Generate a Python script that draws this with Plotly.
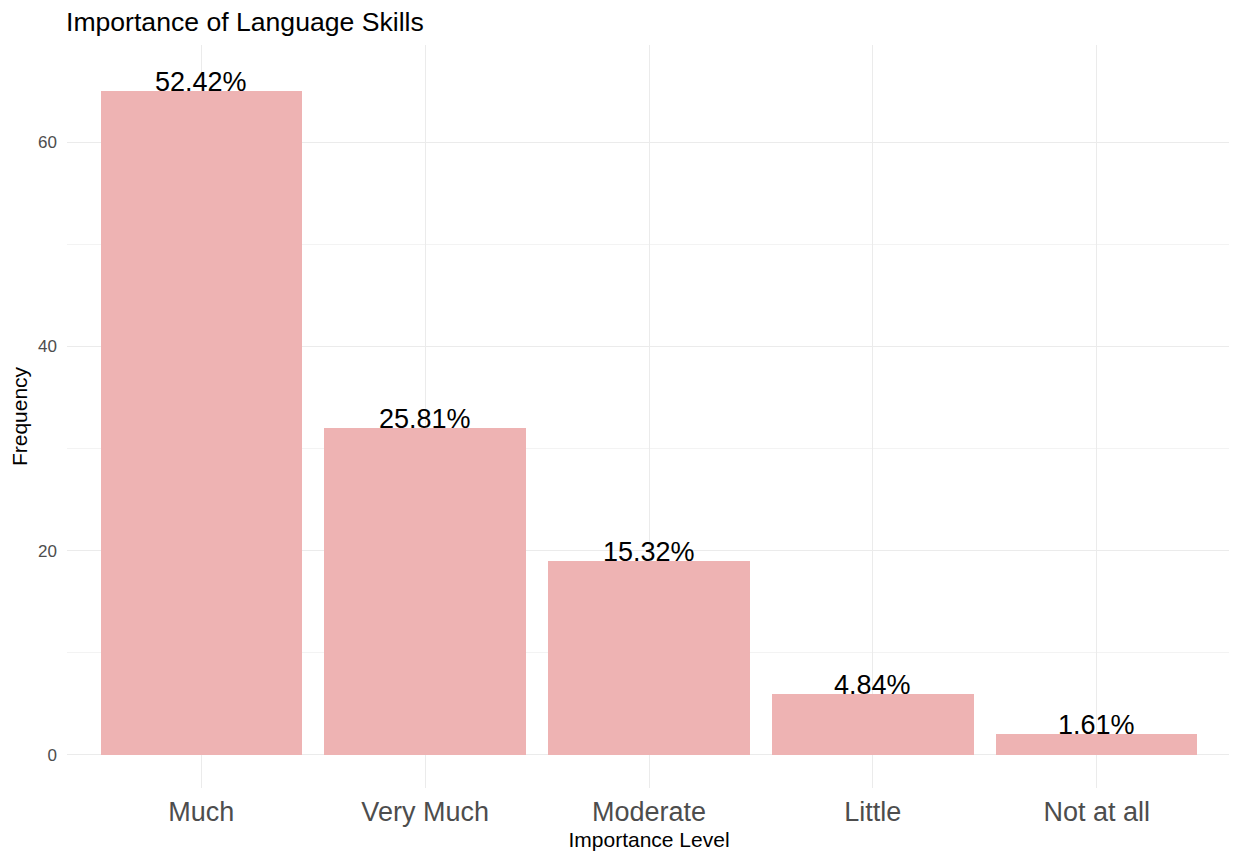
import plotly.graph_objects as go

categories = ["Much", "Very Much", "Moderate", "Little", "Not at all"]
counts = [65, 32, 19, 6, 2]
pct_labels = ["52.42%", "25.81%", "15.32%", "4.84%", "1.61%"]
y_ticks = [0, 20, 40, 60]

FONT = "Liberation Sans, Arial, sans-serif"

fig = go.Figure()
fig.add_trace(go.Bar(
    x=list(range(len(categories))), y=counts, width=0.9,
    marker=dict(color="#EEB3B3", line=dict(width=0)),
    hoverinfo="skip",
))

for i, (c, t) in enumerate(zip(counts, pct_labels)):
    fig.add_annotation(x=i, y=c, text=t, showarrow=False, yanchor="middle", yshift=9,
                       font=dict(family=FONT, size=27, color="black"))

fig.update_layout(
    width=1237, height=854,
    margin=dict(l=59, r=14, t=37, b=74),
    plot_bgcolor="white", paper_bgcolor="white",
    showlegend=False,
    bargap=0,
    title=dict(text="Importance of Language Skills", x=58/1237, xref="container", xanchor="left",
               y=1 - 14/854, yref="container", yanchor="middle",
               font=dict(family=FONT, size=26.6, color="black")),
    xaxis=dict(
        tickmode="array", tickvals=list(range(len(categories))), ticktext=categories,
        range=[-0.6, 4.6], showgrid=True, gridcolor="#EBEBEB", gridwidth=1,
        zeroline=False, showline=False, ticks="", ticklabelstandoff=5, automargin=False,
        tickfont=dict(family=FONT, size=27, color="#4D4D4D"),
        title=dict(text="Importance Level", font=dict(family=FONT, size=21, color="black"), standoff=6),
    ),
    yaxis=dict(
        tickmode="array", tickvals=y_ticks, ticktext=[str(v) for v in y_ticks],
        range=[-3.25, 69.5], showgrid=True, gridcolor="#EBEBEB", gridwidth=1,
        zeroline=False, showline=False, ticks="", ticklabelstandoff=9, automargin=False,
        minor=dict(tickvals=[10, 30, 50], showgrid=True, gridcolor="#F3F3F3", gridwidth=1),
        tickfont=dict(family=FONT, size=17, color="#4D4D4D"),
        title=dict(text="Frequency", font=dict(family=FONT, size=21, color="black"), standoff=5),
    ),
)

fig.write_html("out.html")
